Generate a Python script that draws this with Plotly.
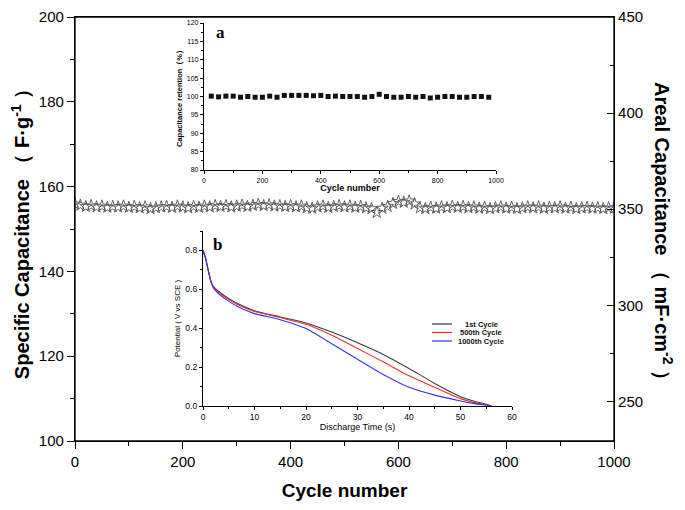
import plotly.graph_objects as go

# ---------------- main data ----------------
cycles_main = list(range(0, 1001, 10))
spec_cap = [
    155.9, 155.6, 155.3, 155.5, 155.2, 155.4, 155.1, 155.3, 155.2, 155.4,
    155.1, 155.3, 155.0, 155.2, 154.8, 155.0, 155.2, 155.3, 155.1, 155.4,
    155.2, 155.0, 155.3, 155.1, 155.4, 155.2, 155.5, 155.3, 155.5, 155.2,
    155.4, 155.6, 155.3, 155.6, 155.8, 155.5, 155.7, 155.4, 155.5, 155.3,
    155.5, 155.2, 155.4, 155.0, 154.9, 155.2, 155.4, 155.1, 155.3, 155.5,
    155.2, 155.4, 155.1, 155.3, 155.0, 154.8, 153.9, 154.9, 155.3, 156.0,
    156.5, 156.3, 156.6, 155.9, 155.0, 154.8, 155.1, 154.9, 155.2, 155.0,
    155.3, 155.1, 155.3, 155.0, 155.2, 154.9, 155.1, 154.8, 155.0, 155.2,
    154.9, 155.1, 154.8, 155.0, 155.2, 155.0, 155.2, 154.9, 155.1, 155.0,
    155.2, 154.9, 155.1, 154.8, 155.0, 155.1, 154.9, 155.0, 154.8, 155.0,
    154.9,
]

# ---------------- inset a data ----------------
cycles_a = list(range(25, 1000, 25))
retention = [
    100.1, 99.9, 100.1, 100.1, 99.8, 100.0, 99.8, 99.8, 100.1, 99.8,
    100.3, 100.3, 100.3, 100.3, 100.2, 100.3, 100.0, 100.1, 100.0, 100.0,
    100.0, 99.8, 100.0, 100.6, 100.0, 99.8, 99.8, 100.0, 99.8, 100.0,
    99.6, 99.8, 100.0, 100.0, 99.8, 99.8, 100.0, 100.0, 99.8,
]

# ---------------- inset b data ----------------
t_b = [0, 0.5, 1, 1.5, 2, 3, 5, 7, 10, 15, 20, 25, 30, 35, 40, 45, 50, 53, 55, 56]
v_1st = [0.80, 0.76, 0.70, 0.645, 0.615, 0.59, 0.552, 0.523, 0.490, 0.458, 0.427,
         0.380, 0.325, 0.265, 0.193, 0.116, 0.048, 0.022, 0.009, 0.0]
v_500 = [0.80, 0.76, 0.70, 0.645, 0.612, 0.585, 0.547, 0.518, 0.486, 0.455, 0.420,
         0.364, 0.296, 0.227, 0.155, 0.096, 0.038, 0.016, 0.006, 0.0]
v_1000 = [0.80, 0.76, 0.70, 0.642, 0.608, 0.578, 0.538, 0.508, 0.475, 0.444, 0.398,
          0.320, 0.240, 0.162, 0.096, 0.056, 0.026, 0.011, 0.004, 0.0]
legend_names = ["1st Cycle", "500th Cycle", "1000th Cycle"]
legend_colors = ["#3a3a3a", "#e8312f", "#3434e6"]

FONT = "Liberation Sans, Arial, sans-serif"
W, H = 685, 510
OFF = 8  # page body margin
# plot area wanted on screen: x 75..614, y 17..441
TOP_S, BOT_S = 17, 441
ML, MT = 75 - OFF, TOP_S - OFF
PW, PH = 539, BOT_S - TOP_S
MR, MB = W - ML - PW, H - MT - PH


def px(xs):
    return (xs - OFF - ML) / PW


def py(ys):
    return (BOT_S - ys) / PH


fig = go.Figure()

fig.add_trace(go.Scatter(
    x=cycles_main, y=spec_cap, mode="markers", xaxis="x", yaxis="y",
    marker=dict(symbol="star-open", size=9, color="#555555", line=dict(width=0.9)),
    showlegend=False, hoverinfo="skip"))

# empty trace so the right-hand (areal capacitance) axis is drawn
fig.add_trace(go.Scatter(x=[], y=[], xaxis="x", yaxis="y2", showlegend=False,
                         hoverinfo="skip"))

fig.add_trace(go.Scatter(
    x=cycles_a, y=retention, mode="markers", xaxis="x3", yaxis="y3",
    marker=dict(symbol="square", size=5, color="#111111"),
    showlegend=False))

for name, vals, col in zip(legend_names, [v_1st, v_500, v_1000], legend_colors):
    fig.add_trace(go.Scatter(
        x=t_b, y=vals, mode="lines", xaxis="x4", yaxis="y4", name=name,
        line=dict(color=col, width=1.1, shape="spline", smoothing=0.6),
        showlegend=False))

axis_common = dict(showline=True, linecolor="black", linewidth=1.2, showgrid=False,
                   zeroline=False, tickcolor="black", automargin=False)

fig.update_layout(
    width=W, height=H, autosize=False,
    margin=dict(l=ML, r=MR, t=MT, b=MB, autoexpand=False),
    paper_bgcolor="white", plot_bgcolor="white",
    font=dict(family=FONT, color="black"),
    showlegend=False,
    xaxis=dict(**axis_common, range=[0, 1000], tick0=0, dtick=200, ticks="outside",
               ticklen=7, mirror="allticks" if False else True, tickfont=dict(size=15),
               minor=dict(dtick=100, ticks="outside", ticklen=4, tickcolor="black"),
               title=dict(text="<b>Cycle number</b>", font=dict(size=19), standoff=14),
               domain=[0, 1]),
    yaxis=dict(**axis_common, range=[100, 200], tick0=100, dtick=20, ticks="outside",
               ticklen=7, tickfont=dict(size=15),
               minor=dict(dtick=10, ticks="outside", ticklen=4, tickcolor="black"),
               title=dict(text="<b>Specific Capacitance （ F·g<sup>-1</sup> ）</b>",
                          font=dict(size=20), standoff=9)),
    yaxis2=dict(**axis_common, overlaying="y", side="right", anchor="x",
                range=[229.4, 450], tick0=250, dtick=50, ticks="inside", ticklen=7,
                tickfont=dict(size=15),
                minor=dict(dtick=25, ticks="inside", ticklen=4, tickcolor="black")),
    # inset a
    xaxis3=dict(**axis_common, domain=[px(204), px(496)], anchor="y3", range=[0, 1000],
                tick0=0, dtick=200, ticks="outside", ticklen=3, tickfont=dict(size=7),
                minor=dict(dtick=100, ticks="outside", ticklen=2, tickcolor="black"),
                title=dict(text="<b>Cycle number</b>", font=dict(size=9), standoff=2)),
    yaxis3=dict(**axis_common, domain=[py(170), py(23)], anchor="x3", range=[80, 120],
                tick0=80, dtick=5, ticks="outside", ticklen=3, tickfont=dict(size=7),
                minor=dict(dtick=2.5, ticks="outside", ticklen=2, tickcolor="black"),
                title=dict(text="<b>Capacitance retention（%）</b>", font=dict(size=7.5),
                           standoff=3)),
    # inset b
    xaxis4=dict(**axis_common, domain=[px(203), px(512)], anchor="y4", range=[0, 60],
                tick0=0, dtick=10, ticks="outside", ticklen=3, tickfont=dict(size=8.5),
                minor=dict(dtick=5, ticks="outside", ticklen=2, tickcolor="black"),
                title=dict(text="Discharge Time (s)", font=dict(size=9), standoff=2)),
    yaxis4=dict(**axis_common, domain=[py(406), py(231)], anchor="x4", range=[0, 0.9],
                tick0=0, dtick=0.2, tickformat=".1f", ticks="outside", ticklen=3,
                tickfont=dict(size=8.5),
                minor=dict(dtick=0.1, ticks="outside", ticklen=2, tickcolor="black"),
                title=dict(text="Potential ( V vs SCE )", font=dict(size=8), standoff=3)),
)

ann_c = dict(xref="paper", yref="paper", showarrow=False, xanchor="center", yanchor="middle")
annotations = [
    dict(**ann_c, text="<b>Areal Capacitance （ mF·cm<sup>-2</sup> ）</b>",
         x=px(664), y=py(236), textangle=90, font=dict(size=20)),
    dict(**ann_c, text="<b>a</b>", x=px(220), y=py(33),
         font=dict(family="Liberation Serif, Times New Roman, serif", size=17)),
    dict(**ann_c, text="<b>b</b>", x=px(217), y=py(244),
         font=dict(family="Liberation Serif, Times New Roman, serif", size=17)),
]

# frame of the main plot (top edge)
shapes = [dict(type="rect", xref="paper", yref="paper", x0=0, x1=1, y0=0, y1=1,
               line=dict(color="black", width=1.3), fillcolor="rgba(0,0,0,0)",
               layer="above")]
# legend for inset b (box + line samples + labels)
shapes.append(dict(type="rect", xref="paper", yref="paper", x0=px(430), x1=px(509),
                   y0=py(345), y1=py(319), line=dict(color="#333333", width=1),
                   fillcolor="white", layer="below"))
rows = [324, 332.5, 341]
for name, col, ry in zip(legend_names, legend_colors, rows):
    shapes.append(dict(type="line", xref="paper", yref="paper", x0=px(432), x1=px(452),
                       y0=py(ry), y1=py(ry), line=dict(color=col, width=1.2), layer="above"))
    annotations.append(dict(**ann_c, text="<b>%s</b>" % name, x=px(481), y=py(ry),
                            font=dict(size=7.5, color="#111111")))

fig.update_layout(annotations=annotations, shapes=shapes)

fig.write_html("out.html")
